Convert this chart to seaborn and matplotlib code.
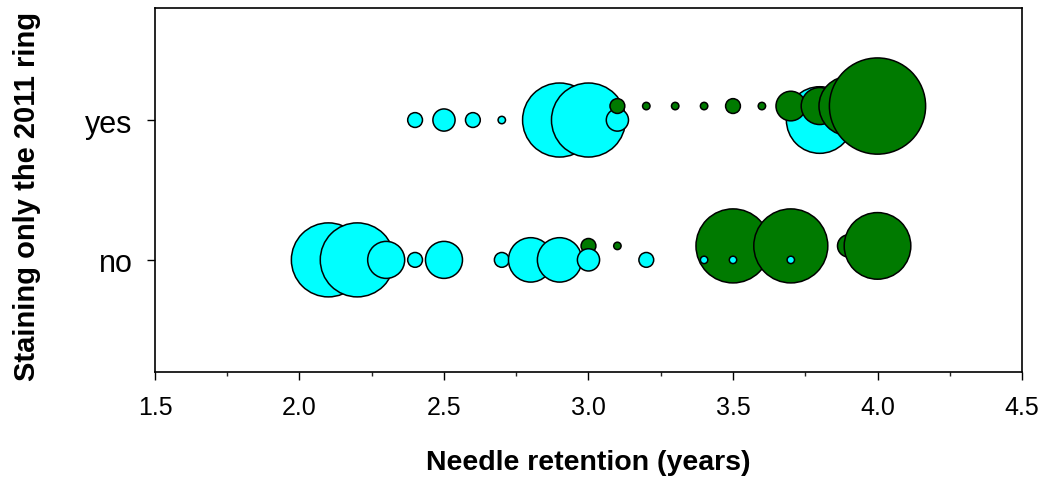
import pandas as pd
import seaborn as sns
import matplotlib.pyplot as plt
from matplotlib.ticker import MultipleLocator

# bubble data: needle retention (years) and bubble value per group
cyan_yes_x = [2.4, 2.5, 2.6, 2.7, 2.8, 2.9, 3.0, 3.1, 3.8]
cyan_yes_n = [2, 3, 2, 1, 2, 10, 10, 3, 9]
green_yes_x = [3.1, 3.2, 3.3, 3.4, 3.5, 3.6, 3.7, 3.8, 3.9, 4.0]
green_yes_n = [2, 1, 1, 1, 2, 1, 4, 5, 8, 13]
cyan_no_x = [2.1, 2.2, 2.3, 2.4, 2.5, 2.7, 2.8, 2.9, 3.0, 3.2, 3.4, 3.5, 3.7]
cyan_no_n = [10, 10, 5, 2, 5, 2, 6, 6, 3, 2, 1, 1, 1]
green_no_x = [3.0, 3.1, 3.5, 3.7, 3.9, 4.0]
green_no_n = [2, 1, 10, 10, 3, 9]

stain_labels = ["no", "yes"]

# draw order: green-no, cyan-no, cyan-yes, green-yes
parts = [
    (green_no_x, green_no_n, "green", 0),
    (cyan_no_x, cyan_no_n, "cyan", 0),
    (cyan_yes_x, cyan_yes_n, "cyan", 1),
    (green_yes_x, green_yes_n, "green", 1),
]
rows = []
for xs, ns, grp, st in parts:
    for x, n in zip(xs, ns):
        y = st + (0.1 if grp == "green" else 0.0)
        rows.append({"retention": x, "stain": y, "group": grp, "n": n})
df = pd.DataFrame(rows)

sns.set_style("ticks")
plt.rcParams['font.family'] = ['Liberation Sans', 'DejaVu Sans']
plt.rcParams['text.color'] = 'black'
plt.rcParams['axes.labelcolor'] = 'black'

fig = plt.figure(figsize=(10.45, 4.81), dpi=100)
ax = fig.add_axes([0.1483, 0.225, 0.8297, 0.756])

sizes = {n: (5.33 * n) ** 2 for n in sorted(df["n"].unique())}
sns.scatterplot(data=df, x="retention", y="stain", hue="group",
                palette={"cyan": "#00FFFF", "green": "#007A00"},
                size="n", sizes=sizes, edgecolor="black", linewidth=1.1,
                alpha=1, legend=False, ax=ax)

ax.set_xlim(1.5, 4.5)
ax.set_ylim(-0.8, 1.8)
ax.set_xticks([1.5, 2.0, 2.5, 3.0, 3.5, 4.0, 4.5])
ax.set_xticklabels(["1.5", "2.0", "2.5", "3.0", "3.5", "4.0", "4.5"])
ax.xaxis.set_minor_locator(MultipleLocator(0.25))
ax.set_yticks([0, 1])
ax.set_yticklabels(stain_labels)
for s in ax.spines.values():
    s.set_visible(True)
    s.set_linewidth(1.2)
    s.set_color("black")
ax.tick_params(axis="both", which="major", direction="out", length=6,
               width=1, colors="black")
ax.tick_params(axis="x", which="major", pad=11, labelsize=18)
ax.tick_params(axis="y", which="major", pad=10, labelsize=22)
ax.tick_params(axis="x", which="minor", direction="out", length=3, width=1)
ax.tick_params(axis="x", which="both", top=False)
ax.tick_params(axis="y", which="both", right=False)

ax.set_xlabel("Needle retention (years)", fontsize=20.5, fontweight="bold", labelpad=21)
ax.set_ylabel("Staining only the 2011 ring", fontsize=21, fontweight="bold", labelpad=32)
ax.yaxis.label.set_y(0.485)

fig.savefig("out.png", dpi=100)
